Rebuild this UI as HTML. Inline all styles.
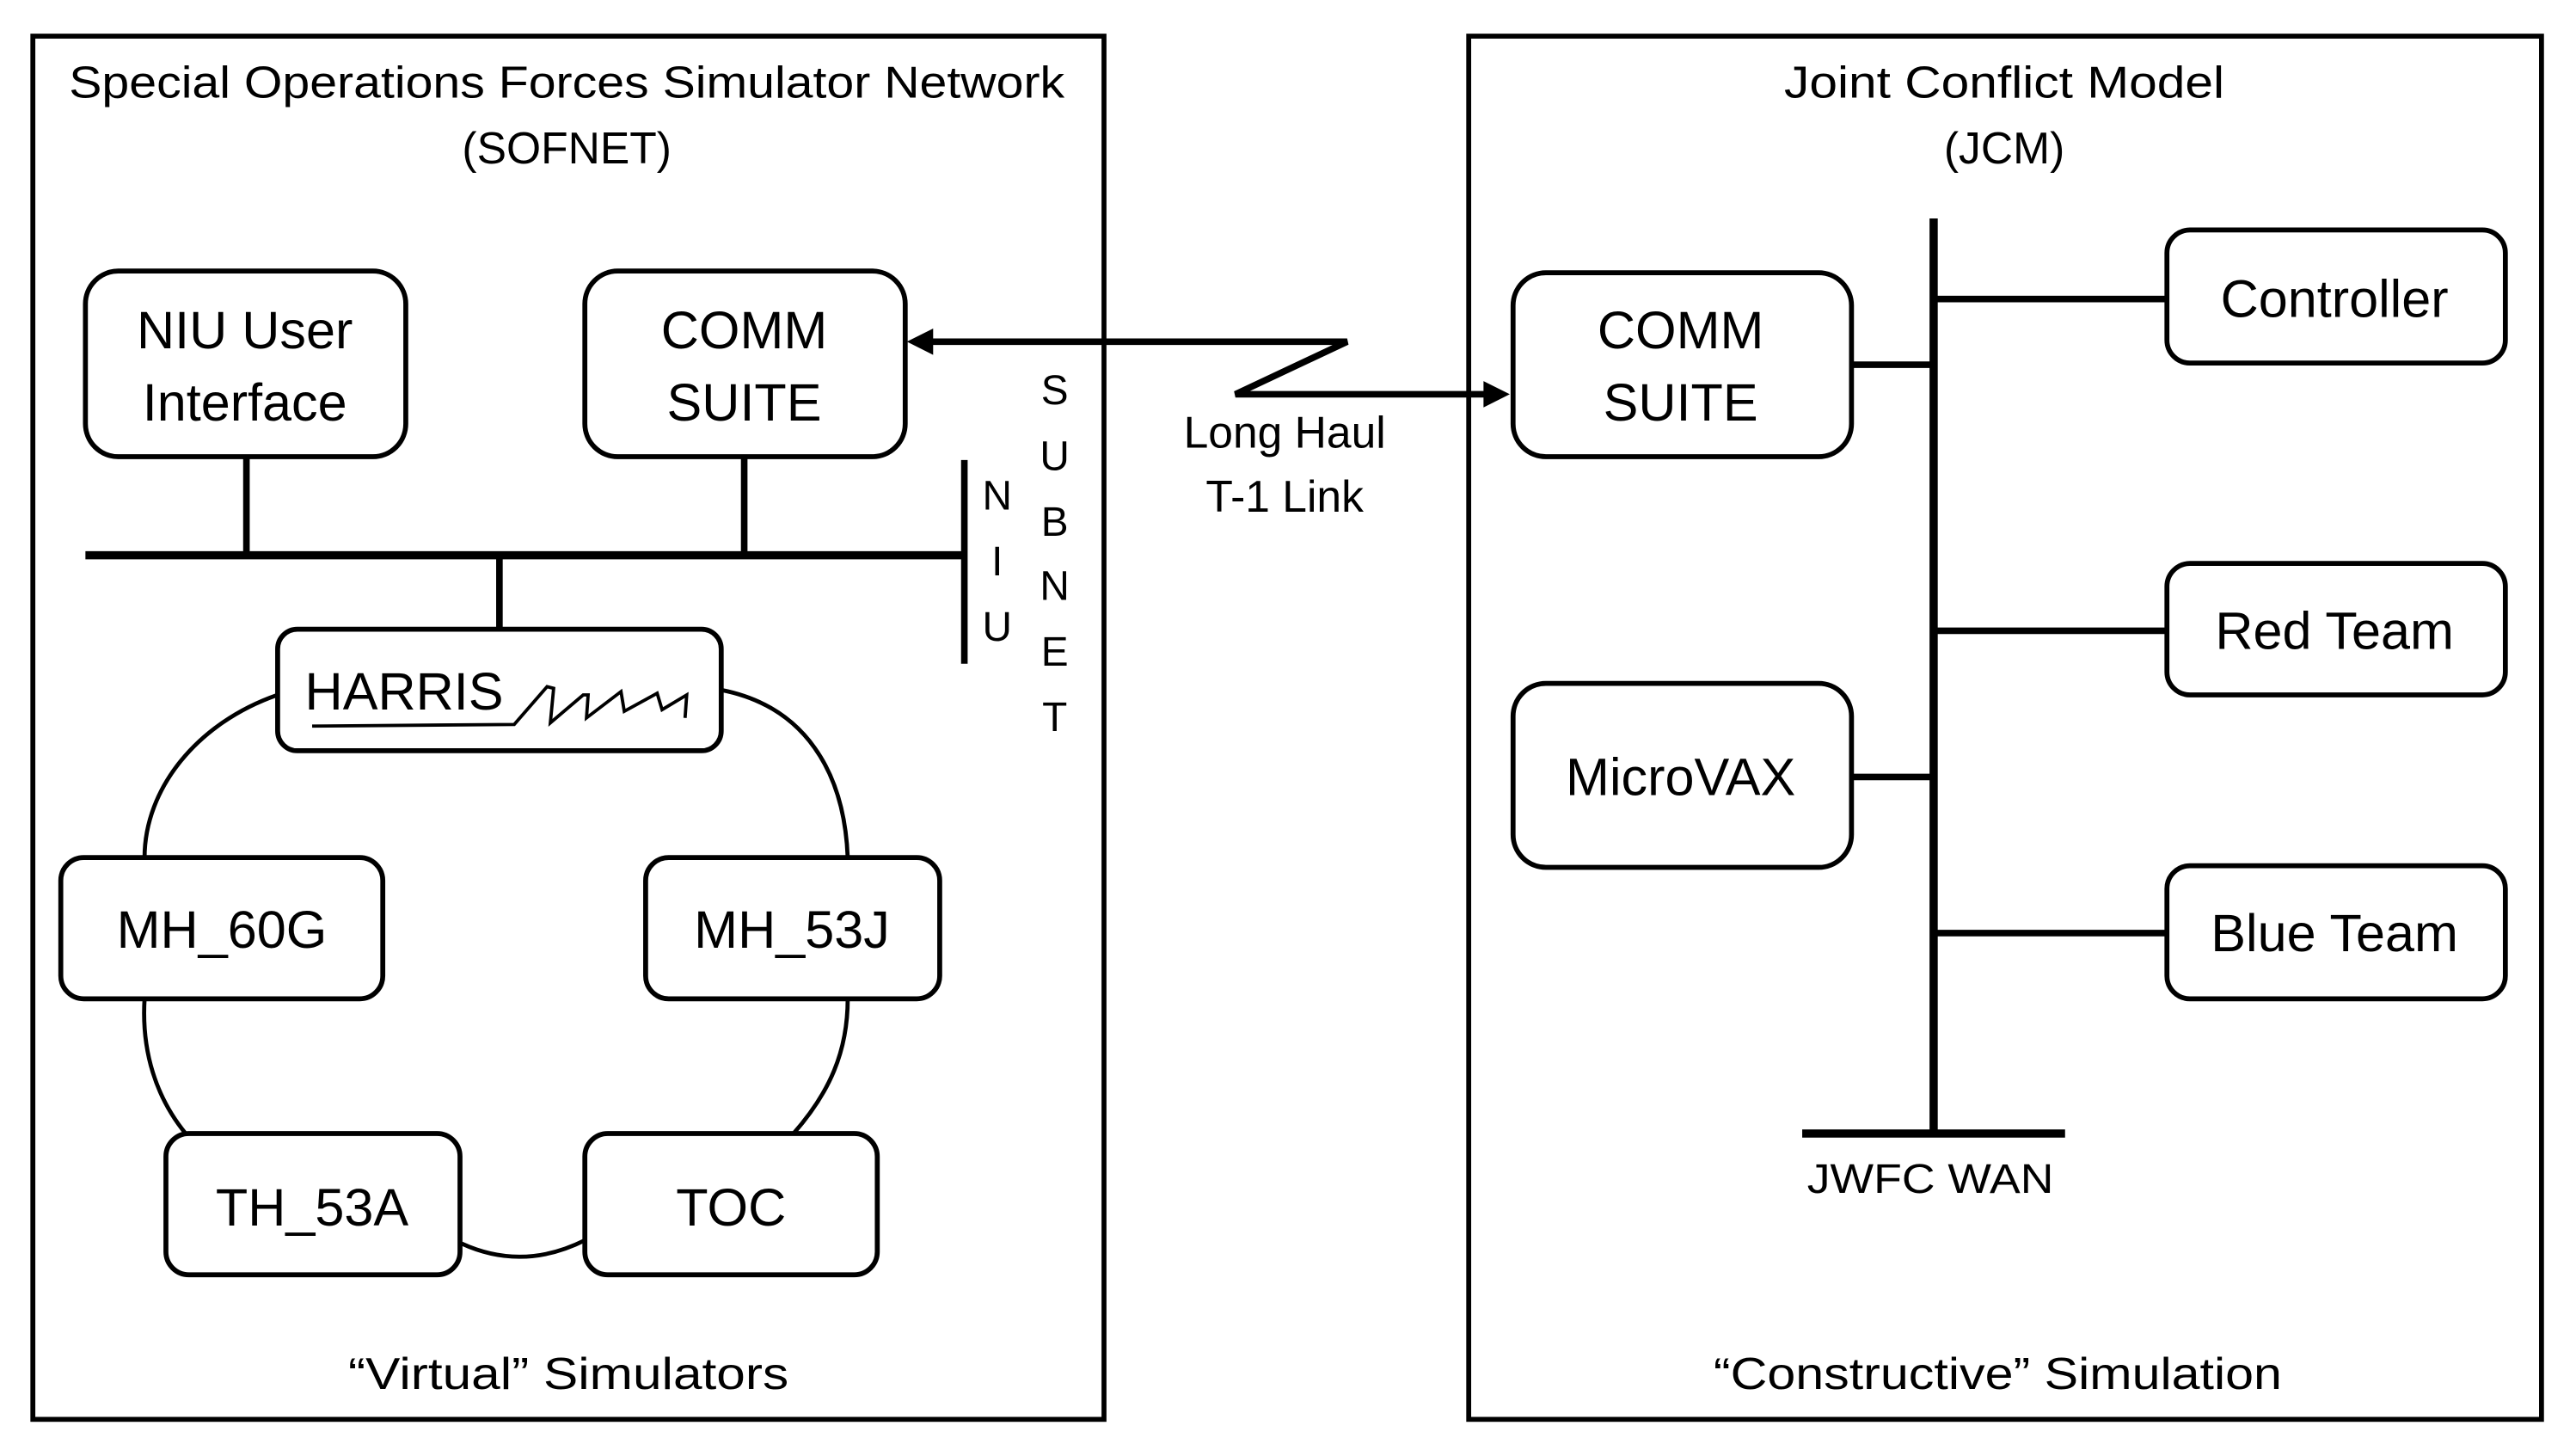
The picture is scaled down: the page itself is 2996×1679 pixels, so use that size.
<!DOCTYPE html>
<html><head><meta charset="utf-8"><style>
html,body{margin:0;padding:0;background:#fff;}
svg{display:block;}
text{font-family:"Liberation Sans",sans-serif;fill:#000;dominant-baseline:central;text-anchor:middle;}
</style></head><body>
<svg width="2996" height="1679" viewBox="0 0 1568 879" preserveAspectRatio="none" xmlns="http://www.w3.org/2000/svg">
<g fill="none" stroke="#000">
<rect x="20" y="22" width="652" height="842" stroke-width="3"/>
<rect x="894" y="22" width="653" height="842" stroke-width="3"/>
<g stroke-width="3">
<rect x="52" y="165" width="195" height="113" rx="20"/>
<rect x="356" y="165" width="195" height="113" rx="20"/>
<rect x="169" y="383" width="270" height="74" rx="12"/>
<rect x="37" y="522" width="196" height="86" rx="14"/>
<rect x="393" y="522" width="179" height="86" rx="14"/>
<rect x="101" y="690" width="179" height="86" rx="14"/>
<rect x="356" y="690" width="178" height="86" rx="14"/>
<rect x="921" y="166" width="206" height="112" rx="20"/>
<rect x="921" y="416" width="206" height="112" rx="20"/>
<rect x="1319" y="140" width="206" height="81" rx="14"/>
<rect x="1319" y="343" width="206" height="80" rx="14"/>
<rect x="1319" y="527" width="206" height="81" rx="14"/>
</g>
<line x1="52" y1="338" x2="587" y2="338" stroke-width="5"/>
<line x1="587" y1="280" x2="587" y2="404" stroke-width="4"/>
<g stroke-width="4">
<line x1="150" y1="278" x2="150" y2="338"/>
<line x1="453" y1="278" x2="453" y2="338"/>
<line x1="304" y1="338" x2="304" y2="383"/>
<line x1="1127" y1="222" x2="1177" y2="222"/>
<line x1="1127" y1="473" x2="1177" y2="473"/>
<line x1="1177" y1="182" x2="1319" y2="182"/>
<line x1="1177" y1="384" x2="1319" y2="384"/>
<line x1="1177" y1="568" x2="1319" y2="568"/>
</g>
<line x1="1177" y1="133" x2="1177" y2="690" stroke-width="5"/>
<line x1="1097" y1="690" x2="1257" y2="690" stroke-width="5"/>
<g stroke-width="2.5">
<path d="M169 423 C120 440 88 480 88 522"/>
<path d="M88 608 C86 640 95 668 113 690"/>
<path d="M281 757 C305 768 330 768 356 755"/>
<path d="M483 690 C505 665 516 640 516 608"/>
<path d="M516 522 C514 470 490 430 439 420"/>
</g>
<path d="M190 442 L313 441 L333 418 L337 419 L335 440 L355 423 L358 423 L357 437 L378 421 L380 433 L400 422 L403 432 L418 423 L417 437" stroke-width="2"/>
<path d="M565 208 L820 208 L752 240 L906 240" stroke-width="4"/>
</g>
<polygon points="552,208 568,200 568,216" fill="#000"/>
<polygon points="919,240 903,232 903,248" fill="#000"/>
<g font-size="27">
<text x="345" y="50" textLength="606" lengthAdjust="spacingAndGlyphs">Special Operations Forces Simulator Network</text>
<text x="345" y="90">(SOFNET)</text>
<text x="1220" y="50" textLength="268" lengthAdjust="spacingAndGlyphs">Joint Conflict Model</text>
<text x="1220" y="90">(JCM)</text>
<text x="346" y="836" textLength="268" lengthAdjust="spacingAndGlyphs">“Virtual” Simulators</text>
<text x="1216" y="836" textLength="346" lengthAdjust="spacingAndGlyphs">“Constructive” Simulation</text>
<text x="782" y="263">Long Haul</text>
<text x="782" y="302">T-1 Link</text>
</g>
<g font-size="25">
<text x="607" y="302">N</text><text x="607" y="342">I</text><text x="607" y="382">U</text>
<text x="642" y="238">S</text><text x="642" y="278">U</text><text x="642" y="318">B</text>
<text x="642" y="357">N</text><text x="642" y="397">E</text><text x="642" y="437">T</text>
<text x="1175" y="718" textLength="150" lengthAdjust="spacingAndGlyphs">JWFC WAN</text>
</g>
<g font-size="32">
<text x="149" y="201">NIU User</text>
<text x="149" y="245">Interface</text>
<text x="453" y="201">COMM</text>
<text x="453" y="245">SUITE</text>
<text x="246" y="421">HARRIS</text>
<text x="135" y="566">MH_60G</text>
<text x="482" y="566">MH_53J</text>
<text x="190" y="735">TH_53A</text>
<text x="445" y="735">TOC</text>
<text x="1023" y="201">COMM</text>
<text x="1023" y="245">SUITE</text>
<text x="1023" y="473">MicroVAX</text>
<text x="1421" y="182">Controller</text>
<text x="1421" y="384">Red Team</text>
<text x="1421" y="568">Blue Team</text>
</g>
</svg>
</body></html>
